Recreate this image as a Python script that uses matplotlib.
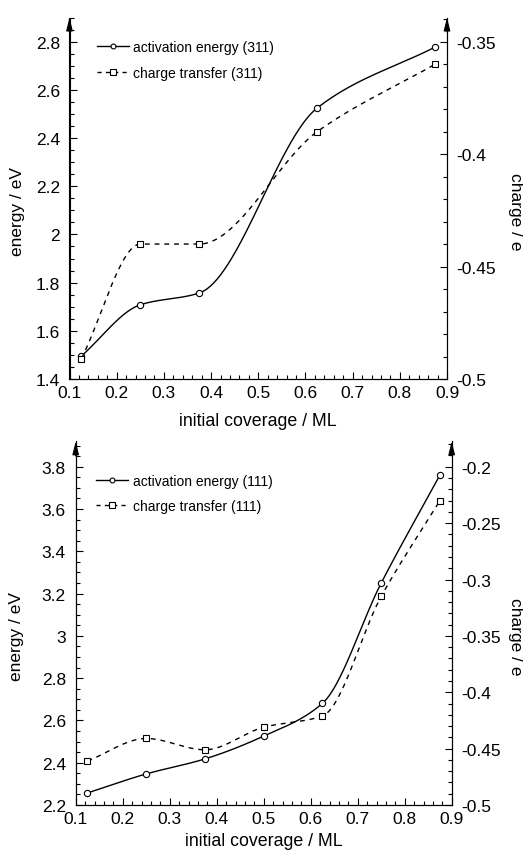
import matplotlib
matplotlib.use('Agg')
import matplotlib.pyplot as plt
from matplotlib.ticker import MultipleLocator
import numpy as np

plt.rcParams['font.family'] = ['Liberation Sans', 'DejaVu Sans']

# (311) surface
cov_311 = [0.125, 0.25, 0.375, 0.625, 0.875]
ea_311 = [1.495, 1.708, 1.757, 2.525, 2.778]
ct_311 = [-0.491, -0.440, -0.440, -0.390, -0.360]

# (111) surface
cov_111 = [0.125, 0.25, 0.375, 0.5, 0.625, 0.75, 0.875]
ea_111 = [2.257, 2.347, 2.418, 2.526, 2.681, 3.25, 3.761]
ct_111 = [-0.461, -0.441, -0.451, -0.431, -0.421, -0.315, -0.230]


def smooth(x, y, n=300):
    # monotone cubic through the points, just for drawing the line
    x = np.asarray(x, float)
    y = np.asarray(y, float)
    h = np.diff(x)
    d = np.diff(y) / h
    k = len(x)
    m = np.zeros(k)
    for i in range(1, k-1):
        if d[i-1] * d[i] > 0:
            w1 = 2*h[i] + h[i-1]
            w2 = h[i] + 2*h[i-1]
            m[i] = (w1 + w2) / (w1/d[i-1] + w2/d[i])
    m[0] = d[0]
    m[-1] = d[-1]

    xs = np.linspace(x[0], x[-1], n)
    idx = np.clip(np.searchsorted(x, xs) - 1, 0, k-2)
    t = (xs - x[idx]) / h[idx]
    h00 = 2*t**3 - 3*t**2 + 1
    h10 = t**3 - 2*t**2 + t
    h01 = -2*t**3 + 3*t**2
    h11 = t**3 - t**2
    ys = h00*y[idx] + h10*h[idx]*m[idx] + h01*y[idx+1] + h11*h[idx]*m[idx+1]
    return xs, ys


def panel(ax, cov, ea, ct, ylim, yright, ymaj, label, leg_xy, lab_x, xpad):
    ax2 = ax.twinx()
    ax.set_xlim(0.1, 0.9)
    ax.set_ylim(*ylim)
    ax2.set_ylim(*yright)

    xs, ys = smooth(cov, ea)
    ax.plot(xs, ys, color='black', lw=1.0)
    ax.plot(cov, ea, 'o', mfc='white', mec='black', ms=4.5, mew=0.8)
    xs, ys = smooth(cov, ct)
    ax2.plot(xs, ys, color='black', lw=1.0, ls=(0, (3.5, 3.5)))
    ax2.plot(cov, ct, 's', mfc='white', mec='black', ms=5, mew=0.8)

    h1, = ax.plot([], [], color='black', lw=1.0, marker='o', mfc='white',
                  mec='black', ms=3.5, mew=0.8)
    h2, = ax.plot([], [], color='black', lw=1.0, ls=(0, (3, 3)), marker='s',
                  mfc='white', mec='black', ms=4, mew=0.8)
    ax.legend([h1, h2], ['activation energy (%s)' % label, 'charge transfer (%s)' % label],
              loc='upper left', bbox_to_anchor=leg_xy, frameon=False,
              fontsize=10, handlelength=2.3, handletextpad=0.3, labelspacing=0.85)

    ax.xaxis.set_minor_locator(MultipleLocator(0.02))
    ax.yaxis.set_minor_locator(MultipleLocator(0.05))
    ax2.yaxis.set_minor_locator(MultipleLocator(0.01))
    xt = np.arange(0.1, 0.91, 0.1)
    ax.set_xticks(xt)
    ax.set_xticklabels(['%g' % round(v, 1) for v in xt])
    yt = np.arange(ylim[0], ymaj + 0.001, 0.2)
    ax.set_yticks(yt)
    ax.set_yticklabels(['%g' % round(v, 1) for v in yt])
    rt = np.arange(-0.5, yright[1], 0.05)
    ax2.set_yticks(rt)
    ax2.set_yticklabels(['%g' % round(v, 2) for v in rt])

    for a in (ax, ax2):
        a.spines['top'].set_visible(False)
        a.tick_params(which='both', direction='in', labelsize=12.5)
        a.tick_params(which='major', length=5, width=0.8)
        a.tick_params(which='minor', length=3, width=0.8)
    ax.tick_params(axis='y', pad=7)
    ax.tick_params(axis='x', pad=4)
    ax2.tick_params(axis='y', pad=7)

    for xa in (0, 1):
        ax.annotate('', xy=(xa, 1.0), xytext=(xa, 0.96), xycoords='axes fraction',
                    arrowprops=dict(arrowstyle='-|>,head_length=0.8,head_width=0.2',
                                    color='black', lw=0.8, shrinkA=0, shrinkB=0))

    frac = (ymaj - ylim[0]) / (ylim[1] - ylim[0]) / 2
    ax.set_ylabel('energy / eV', fontsize=12.5)
    ax.yaxis.set_label_coords(lab_x[0], frac)
    ax2.set_ylabel('charge / e', fontsize=12.5, rotation=270)
    ax2.yaxis.set_label_coords(lab_x[1], frac)
    ax.set_xlabel('initial coverage / ML', fontsize=12.8, labelpad=xpad)


fig = plt.figure(figsize=(5.23, 8.54), dpi=100)
ax_top = fig.add_axes([69.5/523, 474/854, 377.5/523, 361.4/854])
ax_bot = fig.add_axes([75.7/523, 48/854, 376/523, 363.6/854])

panel(ax_top, cov_311, ea_311, ct_311, (1.4, 2.9),
      (-0.5, -0.5 + 1.5*0.15/1.4), 2.8, '311', (0.04, 0.972), (-0.118, 1.202), 9)
panel(ax_bot, cov_111, ea_111, ct_111, (2.2, 3.92),
      (-0.5, -0.5 + 1.72*0.3/1.6), 3.8, '111', (0.022, 0.946), (-0.1375, 1.19), 5)

fig.savefig('out.png', dpi=100)
